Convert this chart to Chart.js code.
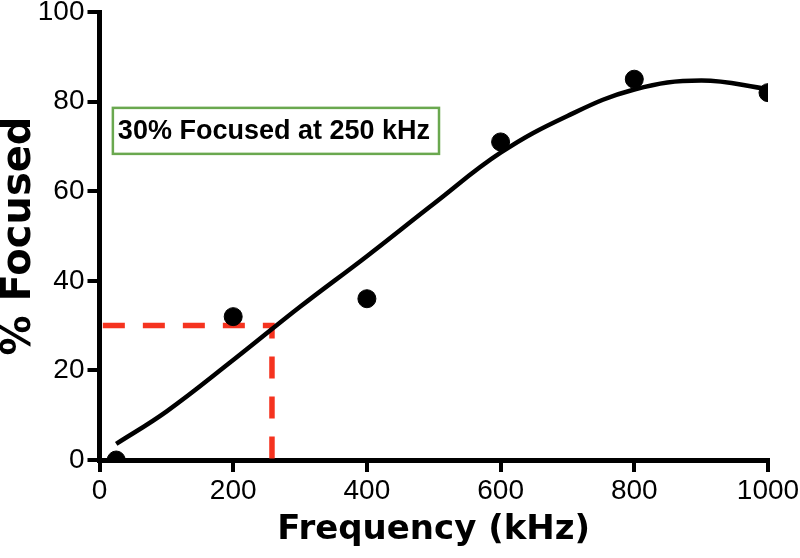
<!DOCTYPE html>
<html>
<head>
<meta charset="utf-8">
<script src="https://cdn.jsdelivr.net/npm/chart.js@4.4.1/dist/chart.umd.min.js"></script>
<style>
  html, body { margin: 0; padding: 0; background: #fff; }
  #wrap { width: 800px; height: 558px; }
</style>
</head>
<body>
<div id="wrap"><canvas id="chart" width="800" height="558"></canvas></div>
<script>
// measured points (kHz, % focused)
const freqPoints = [25, 200, 400, 600, 800, 1000];
const focusedPoints = [0, 32, 36, 71, 85, 82];

// fitted curve
const curveFreq = [25, 100, 200, 300, 400, 500, 600, 700, 800, 900, 1000];
const curveFocused = [3.6, 10.8, 22.3, 34.2, 45.5, 57.2, 68.6, 76.8, 82.7, 84.7, 82.8];

// 30% guide line
const guideFreq = [5, 258, 258];
const guideFocused = [30, 30, 0];

const xTicks = [0, 200, 400, 600, 800, 1000];
const yTicks = [0, 20, 40, 60, 80, 100];

const noteText = '30% Focused at 250 kHz';
const noteAt = { x: 20, y: 78.6 };

function toXY(xs, ys) {
    return xs.map((x, i) => ({ x: x, y: ys[i] }));
}

// draws the green boxed note inside the plot
const notePlugin = {
    id: 'note',
    afterDatasetsDraw(chart) {
        const ctx = chart.ctx;
        const sx = chart.scales.x, sy = chart.scales.y;
        const left = sx.getPixelForValue(noteAt.x);
        const top = sy.getPixelForValue(noteAt.y);
        ctx.save();
        ctx.font = 'bold 27px "Liberation Sans", Arial, sans-serif';
        const w = ctx.measureText(noteText).width;
        const h = 46;
        ctx.fillStyle = '#fff';
        ctx.fillRect(left, top, w + 14, h);
        ctx.strokeStyle = '#6aa84f';
        ctx.lineWidth = 2.5;
        ctx.strokeRect(left, top, w + 14, h);
        ctx.fillStyle = '#000';
        ctx.textBaseline = 'middle';
        ctx.fillText(noteText, left + 5, top + h / 2 + 1);
        ctx.restore();
    }
};

const axisGrid = {
    drawOnChartArea: false,
    drawTicks: true,
    tickLength: 12,
    color: '#000',
    lineWidth: 4,
    tickColor: '#000',
    tickWidth: 4
};

new Chart(document.getElementById('chart').getContext('2d'), {
    type: 'scatter',
    data: {
        datasets: [
            {
                label: 'points',
                data: toXY(freqPoints, focusedPoints),
                backgroundColor: '#000',
                borderColor: '#000',
                pointRadius: 9,
                order: 0
            },
            {
                type: 'line',
                label: 'fit',
                data: toXY(curveFreq, curveFocused),
                borderColor: '#000',
                borderWidth: 4.5,
                pointRadius: 0,
                tension: 0.4,
                fill: false,
                order: 1
            },
            {
                type: 'line',
                label: 'guide',
                data: toXY(guideFreq, guideFocused),
                borderColor: '#f5331f',
                borderWidth: 5.5,
                borderDash: [22, 18],
                pointRadius: 0,
                tension: 0,
                fill: false,
                order: 2
            }
        ]
    },
    options: {
        responsive: false,
        animation: false,
        layout: { padding: { left: 0, right: 32, top: 12, bottom: 0 } },
        plugins: {
            legend: { display: false },
            tooltip: { enabled: false }
        },
        scales: {
            x: {
                type: 'linear',
                min: 0,
                max: 1000,
                afterBuildTicks: s => { s.ticks = xTicks.map(v => ({ value: v })); },
                afterFit: s => { s.height = 98; s.paddingLeft = 0; s.paddingRight = 0; },
                border: { display: true, color: '#000', width: 5 },
                grid: axisGrid,
                ticks: {
                    color: '#000',
                    padding: 2,
                    maxRotation: 0,
                    callback: v => String(v),
                    font: { family: '"Liberation Sans", Arial, sans-serif', size: 28 }
                },
                title: {
                    display: true,
                    text: 'Frequency (kHz)',
                    color: '#000',
                    padding: { top: 0, bottom: 7 },
                    font: { family: '"DejaVu Sans", sans-serif', size: 34, weight: 'bold' }
                }
            },
            y: {
                type: 'linear',
                min: 0,
                max: 100,
                afterBuildTicks: s => { s.ticks = yTicks.map(v => ({ value: v })); },
                afterFit: s => { s.width = 99.5; s.paddingTop = 0; s.paddingBottom = 0; },
                border: { display: true, color: '#000', width: 5 },
                grid: axisGrid,
                ticks: {
                    color: '#000',
                    padding: 3,
                    callback: v => String(v),
                    font: { family: '"Liberation Sans", Arial, sans-serif', size: 28 }
                },
                title: {
                    display: true,
                    text: '% Focused',
                    color: '#000',
                    padding: 0,
                    font: { family: '"DejaVu Sans", sans-serif', size: 40, weight: 'bold', lineHeight: 1 }
                }
            }
        }
    },
    plugins: [notePlugin]
});
</script>
</body>
</html>
